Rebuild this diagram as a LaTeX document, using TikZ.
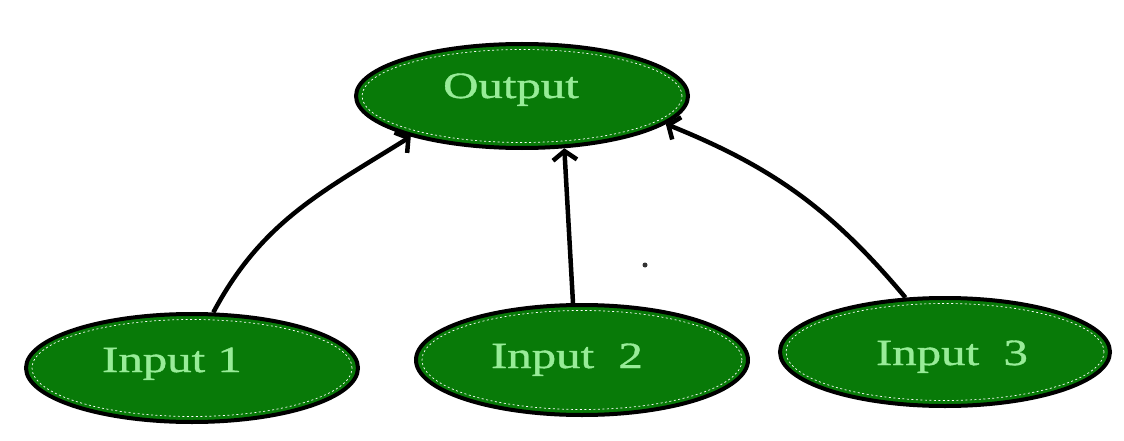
\documentclass[tikz,border=0pt]{standalone}
\usepackage{fontspec}
\setmainfont{Liberation Serif}
\newfontfamily\labelfont[FakeStretch=1.32,FakeBold=1]{Liberation Serif}
\usetikzlibrary{shapes.geometric,arrows.meta}
\definecolor{nodegreen}{RGB}{8,122,8}
\definecolor{labelgreen}{RGB}{152,236,152}
\begin{document}
\begin{tikzpicture}[x=1pt,y=1pt,
  blob/.style={ellipse, draw=black, line width=4pt, fill=nodegreen, inner sep=0pt},
  ring/.style={ellipse, draw=white, dash pattern=on 2pt off 2.5pt, line width=0.7pt, inner sep=0pt},
  lbl/.style={text=labelgreen, font=\labelfont\fontsize{37}{44}\selectfont, inner sep=0pt, anchor=base},
  link/.style={line width=4.5pt, -{Straight Barb[length=9pt,width=24pt]}}]
  \fill[white] (0,0) rectangle (1124,-441);
  \useasboundingbox (0,0) rectangle (1124,-441);

  % ellipses
  \node[blob, minimum width=332pt, minimum height=104pt] (out) at (522,-96) {};
  \node[blob, minimum width=332pt, minimum height=108pt] (in1) at (192,-368) {};
  \node[blob, minimum width=332pt, minimum height=110pt] (in2) at (582,-360) {};
  \node[blob, minimum width=330pt, minimum height=108pt] (in3) at (945,-352) {};

  % thin dashed white rim inside each ellipse
  \node[ring, minimum width=320pt, minimum height=93pt] (outrim) at (out) {};
  \node[ring, minimum width=320pt, minimum height=97pt] (in1rim) at (in1) {};
  \node[ring, minimum width=320pt, minimum height=99pt] (in2rim) at (in2) {};
  \node[ring, minimum width=318pt, minimum height=97pt] (in3rim) at (in3) {};

  % labels
  \node[lbl] (outtxt) at (511,-98) {Output};
  \node[lbl] (in1txt) at (172,-372) {Input 1};
  \node[lbl] (in2txt) at (567,-368) {Input\ \ 2};
  \node[lbl] (in3txt) at (952,-365) {Input\ \ 3};

  % connectors
  \draw[link] (in1.69) to[out=62,in=212] (out.200);
  \draw[link] (in2.99) -- (out.-51);
  \draw[link] (in3.126) to[out=130,in=-22] (out.-11);

  % small stray dot
  \fill[black!80] (645,-265) circle (2.5pt);
\end{tikzpicture}
\end{document}
